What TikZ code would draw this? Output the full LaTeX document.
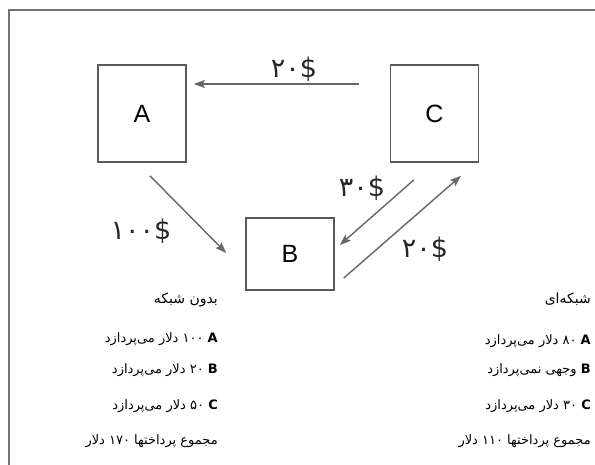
\documentclass[tikz,border=0pt]{standalone}
\usepackage{fontspec}
\setmainfont{Liberation Sans}
\newfontfamily\arabicfont[Script=Arabic]{DejaVu Sans}
\TeXXeTstate=1
\usetikzlibrary{arrows.meta, calc}

\newcommand{\faText}[1]{{\arabicfont\beginR #1\endR}}

\begin{document}
\begin{tikzpicture}[x=1pt, y=-1pt,
    party/.style={draw=black!65, line width=1.6pt, minimum width=88pt, font=\fontsize{25}{25}\selectfont, inner sep=0pt},
    flow/.style={draw=black!60, line width=1.4pt, -{Stealth[length=11pt, width=8pt, inset=2pt]}},
    amount/.style={font=\arabicfont\fontsize{27}{27}\selectfont, text=black!85, inner sep=0pt},
    listhead/.style={anchor=east, font=\fontsize{14}{16}\selectfont, inner sep=0pt},
    listitem/.style={anchor=east, font=\fontsize{13}{15}\selectfont, inner sep=0pt}]

    % --- Page and frame ---
    \useasboundingbox[fill=white] (0,0) rectangle (595,465);
    \draw[black!55, line width=2.4pt] (9,470) -- (9,10) -- (600,10);

    % --- Parties ---
    \node[party, minimum height=97pt] (A) at (142,113.5) {A};
    \node[party, minimum height=97pt] (C) at (434.5,113.5) {C};
    \node[party, minimum height=72pt] (B) at (290,254) {B};

    % --- Payments ---
    \draw[flow, shorten <=31pt, shorten >=7pt]
        ([yshift=29.5pt]C.west) -- ([yshift=29.5pt]A.east);
    \draw[flow]
        ([xshift=8pt, yshift=-13pt]A.south) -- ([xshift=-19pt, yshift=1pt]B.west);
    \draw[flow]
        ([xshift=-20.5pt, yshift=-17pt]C.south) -- ([xshift=5pt, yshift=9pt]B.east);
    \draw[flow]
        ([xshift=9pt, yshift=-24pt]B.east) -- ([xshift=26.5pt, yshift=-13pt]C.south);

    % amounts next to the arrows
    \node[amount] (payCA) at (294,69) {۲۰\$};
    \node[amount] (payAB) at (141,231) {۱۰۰\$};
    \node[amount] (payCB) at (362,188) {۳۰\$};
    \node[amount] (payBC) at (425,249) {۲۰\$};

    % --- Without network (left list) ---
    \node[listhead] (noNet)   at (218,300) {\faText{بدون شبکه}};
    \node[listitem] (noNetA)  at (218,339) {\faText{{\bfseries A} ۱۰۰ دلار می‌پردازد}};
    \node[listitem] (noNetB)  at (218,370) {\faText{{\bfseries B} ۲۰ دلار می‌پردازد}};
    \node[listitem] (noNetC)  at (218,406) {\faText{{\bfseries C} ۵۰ دلار می‌پردازد}};
    \node[listitem] (noNetT)  at (218,441) {\faText{مجموع پرداختها ۱۷۰ دلار}};

    % --- With network (right list) ---
    \node[listhead] (net)   at (591,299) {\faText{شبکه‌ای}};
    \node[listitem] (netA)  at (591,341) {\faText{{\bfseries A} ۸۰ دلار می‌پردازد}};
    \node[listitem] (netB)  at (591,370) {\faText{{\bfseries B} وجهی نمی‌پردازد}};
    \node[listitem] (netC)  at (591,406) {\faText{{\bfseries C} ۳۰ دلار می‌پردازد}};
    \node[listitem] (netT)  at (591,441) {\faText{مجموع پرداختها ۱۱۰ دلار}};

\end{tikzpicture}
\end{document}
